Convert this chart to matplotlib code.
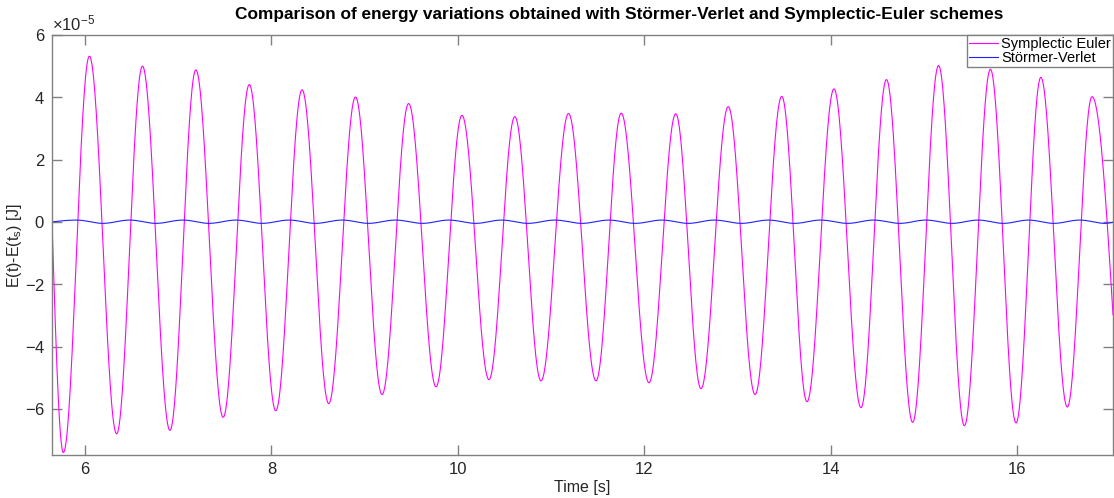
import numpy as np
import matplotlib
matplotlib.use("Agg")
import matplotlib.pyplot as plt

plt.rcParams['font.family'] = ['Liberation Sans', 'DejaVu Sans']
plt.rcParams['mathtext.fontset'] = 'custom'
plt.rcParams['mathtext.rm'] = 'Liberation Sans'
plt.rcParams['mathtext.it'] = 'Liberation Sans:italic'
plt.rcParams['axes.unicode_minus'] = False

# Symplectic Euler: start point, successive troughs/peaks, end point  (units of 1e-5 J)
se_t = [5.646, 5.768, 6.047, 6.339, 6.616, 6.911, 7.189, 7.482, 7.762, 8.046, 8.328,
        8.614, 8.901, 9.186, 9.471, 9.765, 10.043, 10.333, 10.610, 10.891, 11.186,
        11.481, 11.751, 12.049, 12.336, 12.607, 12.899, 13.187, 13.473, 13.744, 14.033,
        14.323, 14.596, 14.877, 15.155, 15.432, 15.711, 15.986, 16.252, 16.536, 16.801,
        17.026]
se_e = [0.0, -7.40, 5.32, -6.80, 5.00, -6.69, 4.88, -6.27, 4.41, -6.06, 4.24,
        -5.83, 4.01, -5.54, 3.80, -5.29, 3.42, -5.06, 3.38, -5.10, 3.48,
        -5.10, 3.49, -5.16, 3.47, -5.35, 3.70, -5.54, 4.03, -5.77, 4.27,
        -5.96, 4.57, -6.43, 5.02, -6.54, 4.90, -6.45, 4.64, -5.94, 4.02,
        -2.98]

# Stormer-Verlet: same layout, much smaller swing
sv_t = [5.646, 5.910, 6.190, 6.480, 6.760, 7.050, 7.330, 7.620, 7.900, 8.190, 8.470,
        8.760, 9.040, 9.330, 9.620, 9.900, 10.190, 10.470, 10.750, 11.040, 11.330,
        11.620, 11.900, 12.190, 12.470, 12.750, 13.040, 13.330, 13.610, 13.890, 14.180,
        14.460, 14.740, 15.020, 15.300, 15.580, 15.850, 16.120, 16.390, 16.670, 16.940,
        17.026]
sv_e = [0.0] + [0.06, -0.045] * 20 + [-0.01]

t_min, t_max = 5.646, 17.026
y_min, y_max = -7.48e-5, 6e-5


def trace(t_keys, v_keys, n=60):
    # smooth cosine arcs between consecutive extrema
    ts, vs = [], []
    last = len(t_keys) - 2
    for i in range(len(t_keys) - 1):
        t0, t1 = t_keys[i], t_keys[i + 1]
        v0, v1 = v_keys[i], v_keys[i + 1]
        s = np.linspace(0, 1, n, endpoint=False)
        if i == 0:
            w = np.sin(np.pi / 2 * s)
        elif i == last:
            w = 1 - np.cos(np.pi / 2 * s)
        else:
            w = (1 - np.cos(np.pi * s)) / 2
        ts.append(t0 + (t1 - t0) * s)
        vs.append(v0 + (v1 - v0) * w)
    ts.append([t_keys[-1]])
    vs.append([v_keys[-1]])
    return np.concatenate(ts), np.concatenate(vs) * 1e-5


fig = plt.figure(figsize=(11.14, 4.98), dpi=100)
ax = fig.add_axes([52 / 1114, 1 - 455 / 498, 1061 / 1114, 420 / 498])

t, e = trace(se_t, se_e)
ax.plot(t, e, color='#ff00ff', lw=0.8, label='Symplectic Euler')
t, e = trace(sv_t, sv_e)
ax.plot(t, e, color='#2020ff', lw=0.8, label='Störmer-Verlet')

ax.set_xlim(t_min, t_max)
ax.set_ylim(y_min, y_max)
ax.set_xticks(np.arange(6, 17, 2))
ax.set_yticks(np.arange(-6e-5, 6.1e-5, 2e-5))
ax.ticklabel_format(axis='y', style='sci', scilimits=(0, 0), useMathText=True)
ax.yaxis.get_offset_text().set_fontsize(12)
ax.yaxis.get_offset_text().set_color('#262626')

ax.tick_params(direction='in', length=7, width=1, colors='#808080',
               labelcolor='#262626', labelsize=12, top=True, right=True, pad=5)
for sp in ax.spines.values():
    sp.set_color('#808080')
    sp.set_linewidth(1)

ax.set_xlabel('Time [s]', fontsize=11.5, color='#262626', labelpad=2)
ax.set_ylabel(r'E(t)-E(t$_{\mathregular{s}}$) [J]', fontsize=11.5, color='#262626')
ax.yaxis.set_label_coords(-0.026, 0.5)
fig.text(619 / 1114, 1 - 14 / 498, 'Comparison of energy variations obtained with Störmer-Verlet and Symplectic-Euler schemes',
         ha='center', va='center', fontsize=12.4, fontweight='bold', color='black')

leg = ax.legend(loc='upper right', fontsize=10.5, frameon=True, fancybox=False,
                borderaxespad=0, borderpad=0.15, labelspacing=0, handlelength=2.0,
                handletextpad=0.2, framealpha=1)
leg.get_frame().set_edgecolor('#808080')
leg.get_frame().set_linewidth(1)

fig.savefig('out.png', dpi=100)
